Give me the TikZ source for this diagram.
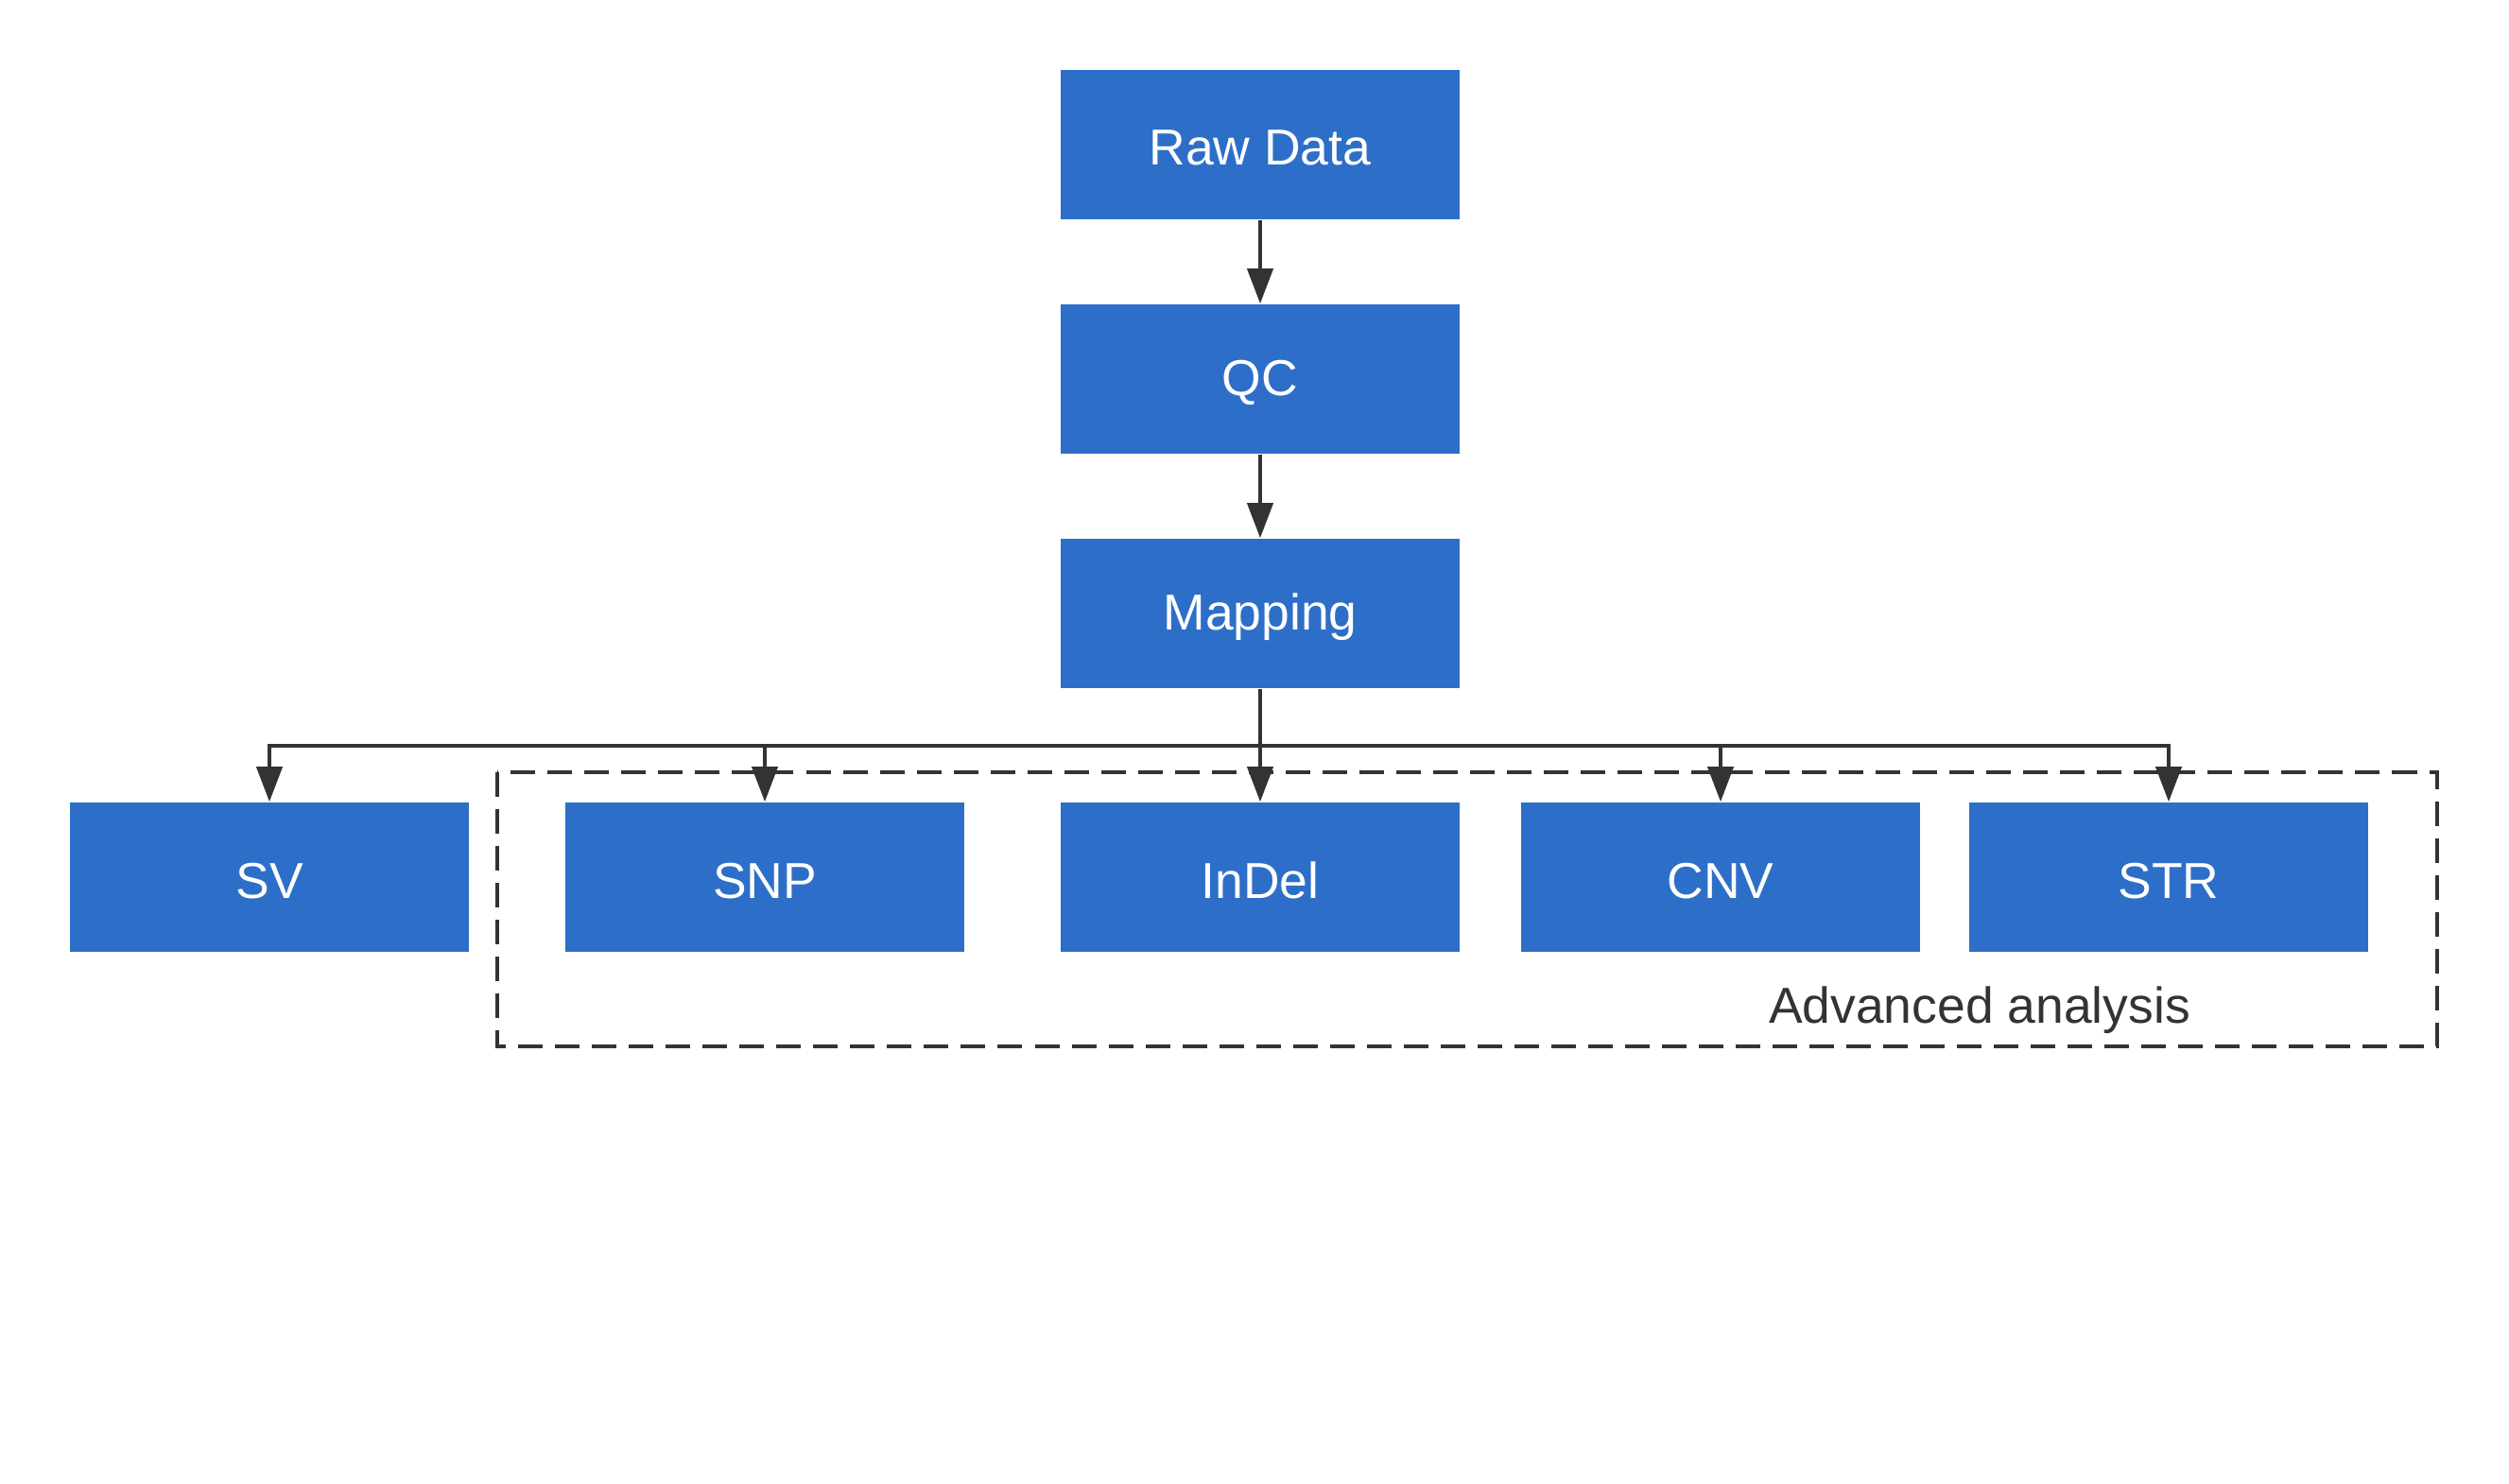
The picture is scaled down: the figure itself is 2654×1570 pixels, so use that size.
\documentclass[tikz,border=0pt]{standalone}
\usepackage{fontspec}
\setmainfont{Liberation Sans}
\usetikzlibrary{arrows.meta}
\definecolor{boxblue}{HTML}{2D6FC8}
\definecolor{linegray}{HTML}{333333}
\newcommand{\lowered}[1]{\raisebox{-1.1pt}[\height][\depth]{#1}}
\begin{document}
\begin{tikzpicture}[x=0.01cm,y=-0.01cm,
  procbox/.style={fill=boxblue, draw=none, minimum width=4.22cm, minimum height=1.58cm, inner sep=0pt, text=white, font=\fontsize{15.2pt}{18pt}\selectfont},
  conn/.style={draw=linegray, line width=0.04cm, -{Triangle[length=0.37cm,width=0.27cm]}},
  bus/.style={draw=linegray, line width=0.04cm}]
\useasboundingbox (0,0) rectangle (2654,1570);
\node[procbox] (raw) at (1333,153) {\lowered{Raw Data}};
\node[procbox] (qc) at (1333,401) {\lowered{QC}};
\node[procbox] (map) at (1333,649) {\lowered{Mapping}};
\node[procbox] (sv) at (285,928) {\lowered{SV}};
\node[procbox] (snp) at (809,928) {\lowered{SNP}};
\node[procbox] (indel) at (1333,928) {\lowered{InDel}};
\node[procbox] (cnv) at (1820,928) {\lowered{CNV}};
\node[procbox] (str) at (2294,928) {\lowered{STR}};
\draw[draw=linegray, line width=0.04cm, dash pattern=on 0.26cm off 0.13cm] (526,817) rectangle (2578,1107);
\node[text=linegray, font=\fontsize{15.2pt}{18pt}\selectfont] (adv) at (2094,1069) {Advanced analysis};
\draw[conn] (raw) -- (qc);
\draw[conn] (qc) -- (map);
\coordinate (bj) at (1333,789);
\draw[bus] (map.south) -- (bj);
\draw[conn] (bj) -- (indel);
\draw[conn] (bj) -| (sv.north);
\draw[conn] (bj) -| (snp.north);
\draw[conn] (bj) -| (cnv.north);
\draw[conn] (bj) -| (str.north);
\end{tikzpicture}
\end{document}
